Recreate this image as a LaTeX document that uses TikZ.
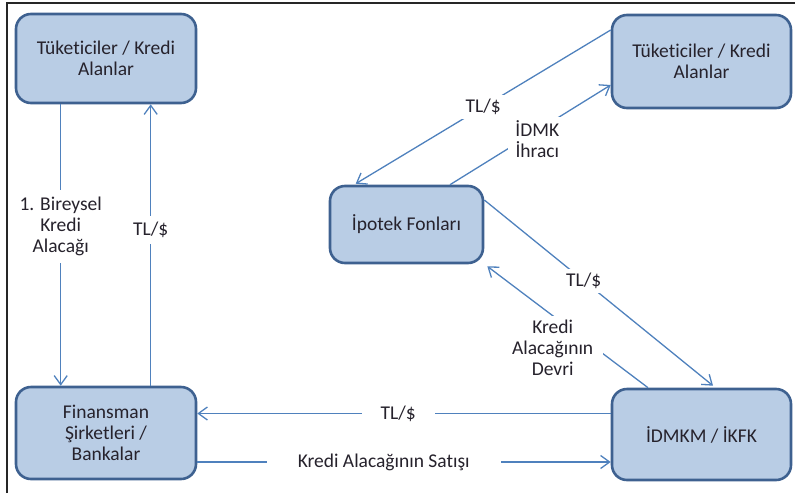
\documentclass[tikz,border=0pt]{standalone}
\usepackage{fontspec}
\setmainfont[Ligatures={NoCommon}]{Carlito}
\usetikzlibrary{arrows.meta}
\definecolor{boxfill}{HTML}{B9CDE5}
\definecolor{boxline}{HTML}{3E6190}
\definecolor{connline}{HTML}{4F81BD}
\definecolor{txt}{HTML}{26222C}
\begin{document}
\begin{tikzpicture}[x=1pt,y=-1pt,
  box/.style={draw=boxline, line width=2.6pt, fill=boxfill, rounded corners=15pt,
    align=center, text=txt, font=\fontsize{19.5}{21}\selectfont, inner sep=0pt},
  conn/.style={draw=connline, line width=1.3pt, -{Straight Barb[length=9pt,width=13pt]}},
  lbl/.style={fill=white, align=center, text=txt, font=\fontsize{19.5}{21}\selectfont,
    inner xsep=8pt, inner ysep=4pt}
]
\useasboundingbox (0,0) rectangle (795,493);

% frame
\draw[line width=2pt, black!85] (7,493) -- (7,3) -- (795,3);

% boxes
\node[box, minimum width=180pt, minimum height=89pt] (tl) at (106,58.5) {Tüketiciler / Kredi\\Alanlar};
\node[box, minimum width=180pt, minimum height=92pt] (fin) at (106,433) {Finansman\\Şirketleri /\\Bankalar};
\node[box, minimum width=153pt, minimum height=77pt] (ipo) at (406.5,224.5) {İpotek Fonları};
\node[box, minimum width=179pt, minimum height=93pt] (tr) at (701.5,61.5) {Tüketiciler / Kredi\\Alanlar};
\node[box, minimum width=179pt, minimum height=91pt] (idm) at (701.5,434.5) {İDMKM / İKFK};

% left column
\draw[conn] ([xshift=46pt]tl.south west) -- ([xshift=46pt]fin.north west)
  node[lbl, pos=0.433, inner ysep=7pt] (l1) {1. Bireysel\\Kredi\\Alacağı};
\draw[conn] ([xshift=136pt]fin.north west) -- ([xshift=136pt]tl.south west)
  node[lbl, pos=0.553, inner ysep=6pt] (l2) {TL/\$};

% bottom row
\draw[conn] ([yshift=21pt]idm.west) -- ([yshift=21pt]idm.west -| fin.east)
  node[lbl, pos=0.514, inner xsep=19pt] (l3) {TL/\$};
\draw[conn] ([yshift=-29pt]fin.east) -- ([yshift=-29pt]fin.east -| idm.west)
  node[lbl, pos=0.451, inner xsep=31pt] (l4) {Kredi Alacağının Satışı};

% mortgage fund links
\draw[conn] ([yshift=31.5pt]tr.west) -- ([xshift=27pt, yshift=1pt]ipo.north west)
  node[lbl, pos=0.5, inner xsep=10pt] (l5) {TL/\$};
\draw[conn] ([xshift=43.5pt]ipo.north) -- ([yshift=-23.5pt]tr.west)
  node[lbl, pos=0.5, xshift=7pt, yshift=-4.5pt, inner xsep=7pt] (l6) {İDMK\\İhracı};
\draw[conn] ([yshift=24.5pt]ipo.east) -- ([xshift=11.5pt, yshift=2pt]idm.north)
  node[lbl, pos=0.435, inner xsep=10pt] (l7) {TL/\$};
\draw[conn] ([xshift=-53.5pt]idm.north) -- ([xshift=3pt, yshift=-2pt]ipo.south east)
  node[lbl, pos=0.5, xshift=-15pt, yshift=-21pt, inner xsep=10pt] (l8) {Kredi\\Alacağının\\Devri};
\end{tikzpicture}
\end{document}
